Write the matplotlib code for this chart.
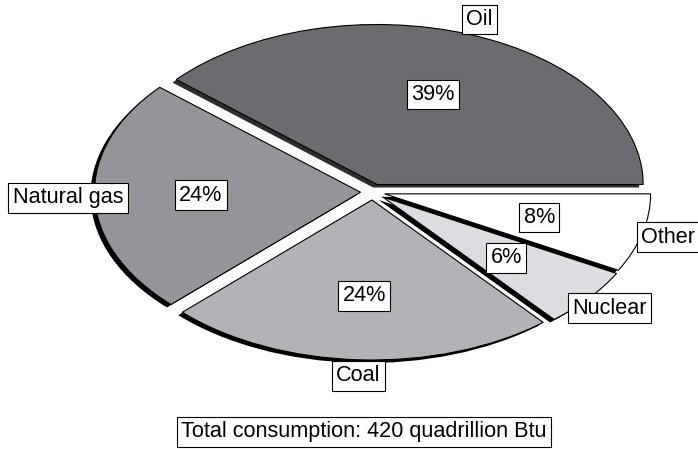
import numpy as np
import matplotlib
matplotlib.use("Agg")
import matplotlib.pyplot as plt

# Energy consumption shares by source (percent)
categories = ["Oil", "Natural gas", "Coal", "Nuclear", "Other"]
shares = [39, 24, 24, 6, 8]
total_label = "Total consumption: 420 quadrillion Btu"

fill_colors = ["#6b6c70", "#949599", "#b2b3b7", "#dcdde0", "#ffffff"]
shadow_colors = ["#2e2e2e", "#000000", "#000000", "#000000", "#000000"]

plt.rcParams["font.family"] = ["Liberation Sans", "DejaVu Sans"]
FS = 15.6

W, H = 698, 449
fig = plt.figure(figsize=(W / 100, H / 100), dpi=100)
ax = fig.add_axes([0, 0, 1, 1])

# the pie is drawn as a circle in data units; the y axis is stretched so it
# appears as a flattened ellipse on the page
squash = 160 / 266
radius = 266
cx, cy = 372.5, (H - 192) / squash
explode = [13.3, 12.0, 13.3, 13.3, 12.5]
shadow_dx, shadow_dy = -4.0, -3.0 / squash

# drop shadow underneath each slice
ax.pie(shares, colors=shadow_colors, radius=radius,
       center=(cx + shadow_dx, cy + shadow_dy), explode=explode,
       startangle=0, counterclock=True,
       wedgeprops=dict(linewidth=0), frame=True)

wedges, _ = ax.pie(shares, colors=fill_colors, radius=radius,
                   center=(cx, cy), explode=explode,
                   startangle=0, counterclock=True,
                   wedgeprops=dict(edgecolor="black", linewidth=0.8),
                   frame=True)

ax.set_aspect("auto")
ax.set_xlim(0, W)
ax.set_ylim(0, H / squash)
ax.axis("off")

box = dict(boxstyle="square,pad=0.2", fc="white", ec="black", lw=0.8)

for w, name, v in zip(wedges, categories, shares):
    mid = np.deg2rad((w.theta1 + w.theta2) / 2)
    x0, y0 = w.center
    ax.text(x0 + 0.60 * radius * np.cos(mid), y0 + 0.60 * radius * np.sin(mid),
            f"{v}%", ha="center", va="center", fontsize=FS, bbox=box, zorder=5)
    ax.text(x0 + 1.1 * radius * np.cos(mid), y0 + 1.1 * radius * np.sin(mid),
            name, ha="center", va="center", fontsize=FS, bbox=box, zorder=5,
            clip_on=False)

fig.text(364 / W, 1 - 432 / H, total_label, ha="center", va="center",
         fontsize=FS, bbox=box)

fig.savefig("out.png", dpi=100, facecolor="white")
